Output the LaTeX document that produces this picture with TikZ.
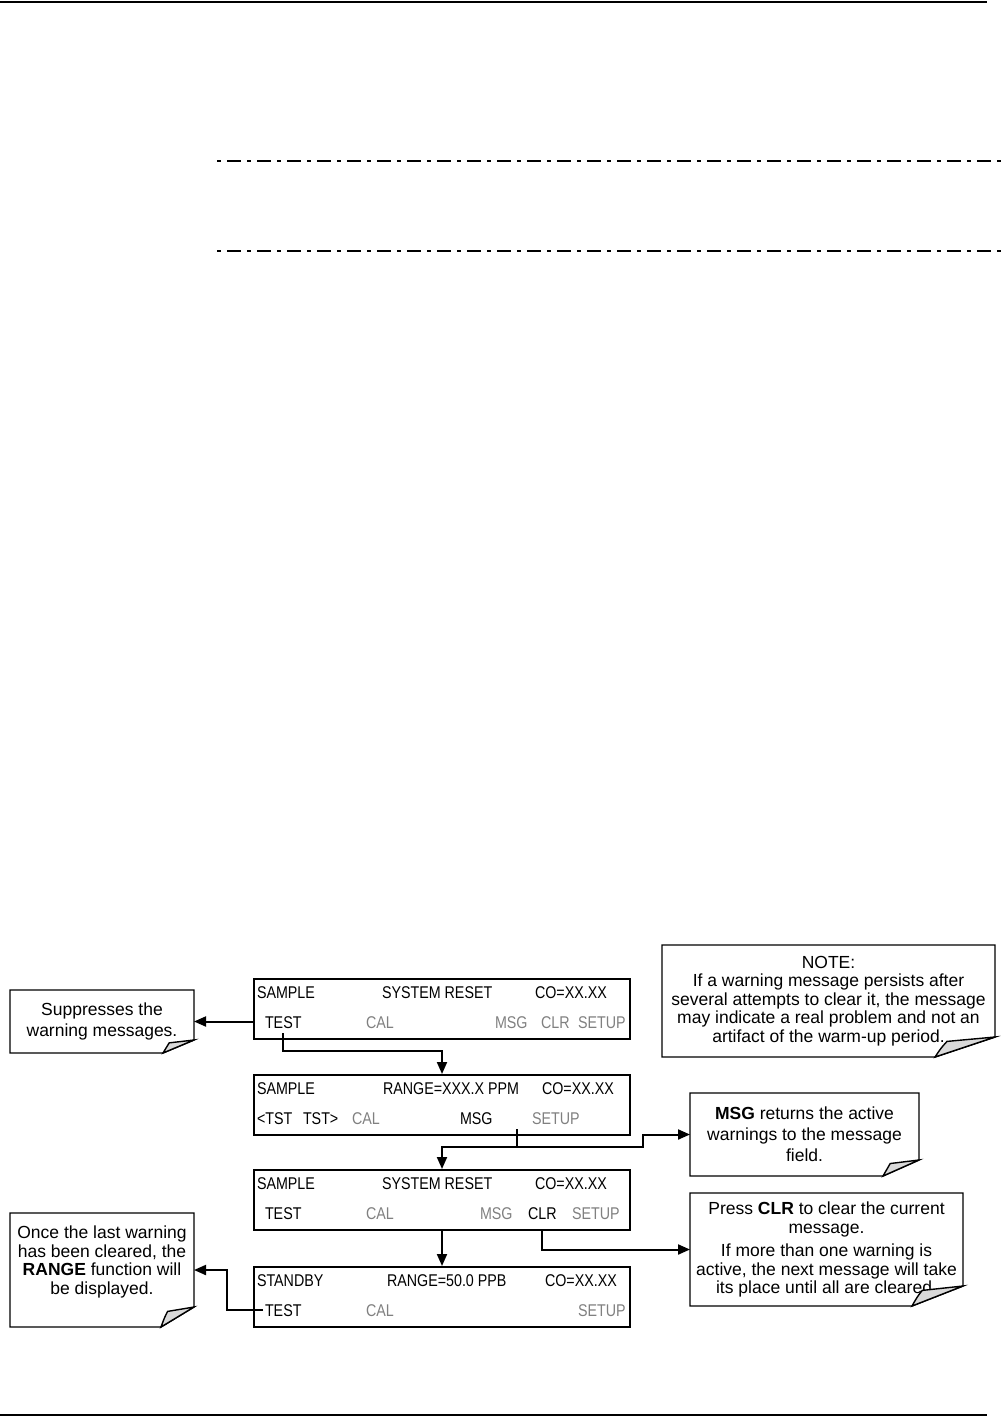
\documentclass[tikz,border=0pt]{standalone}
\usepackage{fontspec}
\setmainfont{Liberation Sans}
\newfontfamily\lcdfont[FakeStretch=0.84]{Liberation Sans}
\usetikzlibrary{arrows.meta,calc}

% note outline with a folded corner: node, fold width, fold height
\newcommand{\notebox}[3]{%
  \draw[notebd] (#1.south west) -- (#1.north west) -- (#1.north east)
    -- ([yshift=#3pt]#1.south east) -- ([xshift=-#2pt]#1.south east) -- cycle;
  \filldraw[notebd, fill=black!15] ([yshift=#3pt]#1.south east)
    -- ($(#1.south east)+(-0.8*#2,-0.78*#3)$)
    .. controls ($(#1.south east)+(-0.9*#2,-0.45*#3)$) .. ([xshift=-#2pt]#1.south east) -- cycle;
}

\begin{document}
\begin{tikzpicture}[x=1pt, y=-1pt,
  screen/.style={draw, line width=2pt, minimum width=376pt, minimum height=60pt, inner sep=0pt},
  key/.style={anchor=base west, inner sep=0pt, outer sep=0pt, font=\lcdfont\fontsize{17}{19}\selectfont},
  off/.style={key, text=black!50},
  note/.style={inner sep=0pt, outer sep=0pt, align=center, font=\fontsize{17.5}{21}\selectfont},
  tight/.style={font=\fontsize{17.5}{18.5}\selectfont},
  notebd/.style={line width=1.4pt, line join=miter},
  link/.style={line width=2pt},
  dashdot/.style={line width=2pt, dash pattern=on 4pt off 6pt on 14pt off 6pt},
  >={Triangle[length=12pt,width=10pt]}]
\useasboundingbox (0,0) rectangle (1006,1418);

% page rules
\draw[line width=2pt] (0,2) -- (987,2);
\draw[line width=2.5pt] (0,1415) -- (987,1415);
\draw[dashdot] (217,161) -- (1006,161);
\draw[dashdot] (217,251) -- (1006,251);

% display screens
\node[screen] (reset1) at (442,1009) {};
\node[screen] (range1) at (442,1105) {};
\node[screen] (reset2) at (442,1200) {};
\node[screen] (standby) at (442,1297) {};

% screen 1
\node[key] (samp1) at (257,998) {SAMPLE};
\node[key] (sysr1) at (382,998) {SYSTEM RESET};
\node[key] (conc1) at (535,998) {CO=XX.XX};
\node[key] (test1) at (265,1028) {TEST};
\node[off] (cal1) at (366,1028) {CAL};
\node[off] (msg1) at (495,1028) {MSG};
\node[off] (clr1) at (541,1028) {CLR};
\node[off] (setup1) at (578,1028) {SETUP};

% screen 2
\node[key] (samp2) at (257,1094) {SAMPLE};
\node[key] (rng2) at (383,1094) {RANGE=XXX.X PPM};
\node[key] (conc2) at (542,1094) {CO=XX.XX};
\node[key] (prev2) at (257,1124) {<TST};
\node[key] (next2) at (303,1124) {TST>};
\node[off] (cal2) at (352,1124) {CAL};
\node[key] (msg2) at (460,1124) {MSG};
\node[off] (setup2) at (532,1124) {SETUP};

% screen 3
\node[key] (samp3) at (257,1189) {SAMPLE};
\node[key] (sysr3) at (382,1189) {SYSTEM RESET};
\node[key] (conc3) at (535,1189) {CO=XX.XX};
\node[key] (test3) at (265,1219) {TEST};
\node[off] (cal3) at (366,1219) {CAL};
\node[off] (msg3) at (480,1219) {MSG};
\node[key] (clr3) at (528,1219) {CLR};
\node[off] (setup3) at (572,1219) {SETUP};

% screen 4
\node[key] (stby4) at (257,1286) {STANDBY};
\node[key] (rng4) at (387,1286) {RANGE=50.0 PPB};
\node[key] (conc4) at (545,1286) {CO=XX.XX};
\node[key] (test4) at (265,1316) {TEST};
\node[off] (cal4) at (366,1316) {CAL};
\node[off] (setup4) at (578,1316) {SETUP};

% notes
\node[note, minimum width=184pt, minimum height=63pt] (suppnote) at (102,1021.5)
  {Suppresses the\\warning messages.};
\notebox{suppnote}{31}{13}
\node[note, tight, minimum width=333pt, minimum height=112pt] (warnnote) at (828.5,1001)
  {NOTE:\\If a warning message persists after\\several attempts to clear it, the message\\may indicate a real problem and not an\\artifact of the warm-up period.};
\notebox{warnnote}{60}{20}
\node[note, minimum width=229pt, minimum height=83pt] (msgnote) at (804.5,1134.5)
  {\textbf{MSG} returns the active\\warnings to the message\\field.};
\notebox{msgnote}{36}{16}
\node[note, tight, minimum width=273pt, minimum height=113pt] (clrnote) at (826.5,1249.5)
  {Press \textbf{CLR} to clear the current\\message.\\[5pt]If more than one warning is\\active, the next message will take\\its place until all are cleared.};
\notebox{clrnote}{51}{20}
\node[note, tight, minimum width=184pt, minimum height=114pt] (lastnote) at (102,1270)
  {Once the last warning\\has been cleared, the\\\textbf{RANGE} function will\\be displayed.\\[1pt]\mbox{}};
\notebox{lastnote}{33}{20}

% connectors
\draw[link,->] (reset1.west |- suppnote.east) -- (suppnote.east);
\draw[link,->] ([yshift=-5pt]test1.south) -- ++(0,18) -| (range1.north);
\draw[link] ($(msg2.south east)+(24,5)$) -- ++(0,18) coordinate (fork);
\draw[link,->] (fork) -| (reset2.north);
\draw[link,->] (fork) -- ++(126,0) |- (msgnote.west);
\draw[link,->] (reset2.south) -- (standby.north);
\draw[link,->] (clr3.south |- reset2.south) |- (clrnote.west);
\draw[link,->] ([xshift=-2pt]test4.west) -- ++(-36,0) |- (lastnote.east);
\end{tikzpicture}
\end{document}
